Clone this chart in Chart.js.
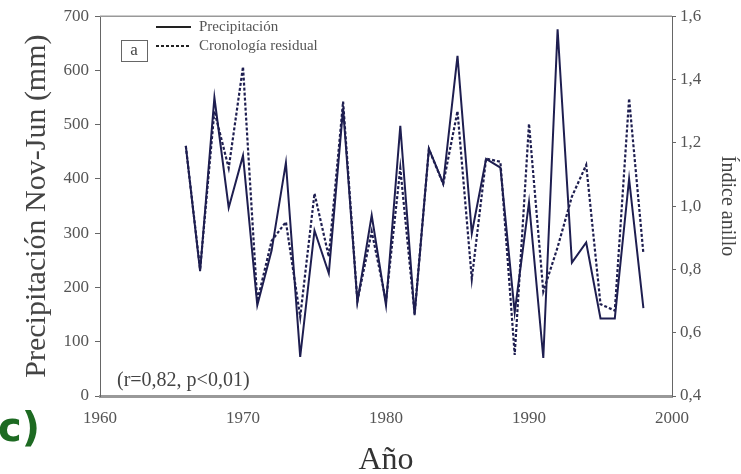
<!DOCTYPE html>
<html lang="es">
  <head>
    <meta charset="UTF-8" />
    <title>precipitacion</title>
    <script src="https://cdn.jsdelivr.net/npm/chart.js"></script>
    <style>
      body { margin: 0; background: #fff; }
      .wrap { width: 741px; height: 474px; }
    </style>
  </head>
  <body>
    <div class="wrap">
      <canvas id="myChart" width="741" height="474"></canvas>
    </div>

    <script>
      // data
      const years = [1966, 1967, 1968, 1969, 1970, 1971, 1972, 1973, 1974, 1975, 1976,
        1977, 1978, 1979, 1980, 1981, 1982, 1983, 1984, 1985, 1986, 1987, 1988, 1989,
        1990, 1991, 1992, 1993, 1994, 1995, 1996, 1997, 1998];
      const precip = [461, 230, 550, 347, 443, 167, 268, 430, 72, 305, 226,
        530, 173, 333, 167, 498, 149, 456, 392, 627, 300, 437, 421, 154,
        357, 70, 676, 246, 283, 143, 143, 400, 162];
      const chron = [1.19, 0.80, 1.30, 1.12, 1.44, 0.70, 0.89, 0.95, 0.65, 1.04, 0.84,
        1.33, 0.70, 0.92, 0.70, 1.12, 0.66, 1.18, 1.07, 1.30, 0.77, 1.15, 1.14, 0.53,
        1.26, 0.73, 0.87, 1.03, 1.13, 0.69, 0.67, 1.34, 0.85];
      const seriesLabels = ["Precipitación", "Cronología residual"];
      const xTicks = [1960, 1970, 1980, 1990, 2000];

      const serif = "'Liberation Serif', 'DejaVu Serif', serif";
      const tickColor = "#555";
      const lineColor = "#1e1e50";

      function toPoints(vals) {
        return years.map((y, i) => ({ x: y, y: vals[i] }));
      }

      // legend, boxed "a", r text, panel letter and top frame line
      const extras = {
        id: "extras",
        afterDraw(chart) {
          const c = chart.ctx;
          const a = chart.chartArea;
          const ds = chart.data.datasets;
          c.save();
          c.strokeStyle = "#999";
          c.lineWidth = 1.5;
          c.beginPath();
          c.moveTo(a.left, a.top);
          c.lineTo(a.right, a.top);
          c.stroke();

          // legend
          const rows = [27, 46];
          c.font = "15px " + serif;
          c.textBaseline = "middle";
          ds.forEach((d, i) => {
            c.strokeStyle = "#222";
            c.lineWidth = 2;
            c.setLineDash(d.borderDash || []);
            c.beginPath();
            c.moveTo(156, rows[i]);
            c.lineTo(191, rows[i]);
            c.stroke();
            c.setLineDash([]);
            c.fillStyle = "#555";
            c.textAlign = "left";
            c.fillText(d.label, 199, rows[i]);
          });

          // boxed a
          c.strokeStyle = "#666";
          c.lineWidth = 1;
          c.strokeRect(121.5, 40.5, 26, 21);
          c.fillStyle = "#444";
          c.font = "17px " + serif;
          c.textAlign = "center";
          c.fillText("a", 134, 51);

          // correlation
          c.textAlign = "left";
          c.textBaseline = "alphabetic";
          c.font = "20px " + serif;
          c.fillStyle = "#444";
          c.fillText("(r=0,82, p<0,01)", 117, 386);

          // panel letter
          c.font = "bold 40px 'DejaVu Sans', sans-serif";
          c.fillStyle = "#1d6a22";
          c.textAlign = "right";
          c.fillText("c)", 40, 441);
          c.restore();
        },
      };

      const config = {
        type: "line",
        data: {
          datasets: [
            {
              label: seriesLabels[0],
              data: toPoints(precip),
              yAxisID: "y",
              borderColor: lineColor,
              borderWidth: 2,
              pointRadius: 0,
              tension: 0,
            },
            {
              label: seriesLabels[1],
              data: toPoints(chron),
              yAxisID: "y1",
              borderColor: lineColor,
              borderWidth: 2.2,
              borderDash: [3, 2],
              pointRadius: 0,
              tension: 0,
            },
          ],
        },
        options: {
          responsive: false,
          animation: false,
          layout: { padding: { top: 15, left: 0, right: 0, bottom: 0 } },
          plugins: {
            legend: { display: false },
            tooltip: { enabled: false },
          },
          scales: {
            x: {
              type: "linear",
              min: 1960,
              max: 2000,
              afterBuildTicks: (s) => { s.ticks = xTicks.map((v) => ({ value: v })); },
              afterFit: (s) => { s.height = 78; },
              grid: { display: false, drawTicks: false },
              border: { display: true, color: "#999", width: 3 },
              ticks: {
                padding: 12,
                color: tickColor,
                font: { family: serif, size: 17 },
                callback: (v) => String(v),
              },
              title: {
                display: true,
                text: "Año",
                color: "#333",
                font: { family: serif, size: 32 },
                padding: { top: 0, bottom: -6 },
              },
            },
            y: {
              position: "left",
              min: 0,
              max: 700,
              afterFit: (s) => { s.width = 100; },
              grid: { drawOnChartArea: false, tickLength: 5, color: "#666" },
              border: { display: true, color: "#666", width: 1 },
              ticks: {
                stepSize: 100,
                padding: 6,
                color: tickColor,
                font: { family: serif, size: 17 },
              },
              title: {
                display: true,
                text: "Precipitación Nov-Jun (mm)",
                color: "#444",
                font: { family: serif, size: 30 },
                padding: { top: 19, bottom: 0 },
              },
            },
            y1: {
              position: "right",
              min: 0.4,
              max: 1.6,
              afterFit: (s) => { s.width = 69; },
              grid: { drawOnChartArea: false, tickLength: 4, color: "#666" },
              border: { display: true, color: "#666", width: 1 },
              ticks: {
                stepSize: 0.2,
                padding: 4,
                color: tickColor,
                font: { family: serif, size: 17 },
                callback: (v) => v.toFixed(1).replace(".", ","),
              },
              title: {
                display: true,
                text: "Índice anillo",
                color: "#444",
                font: { family: serif, size: 20 },
                padding: { top: 2, bottom: 0 },
              },
            },
          },
        },
        plugins: [extras],
      };

      const ctx = document.getElementById("myChart").getContext("2d");
      const myChart = new Chart(ctx, config);
    </script>
  </body>
</html>
